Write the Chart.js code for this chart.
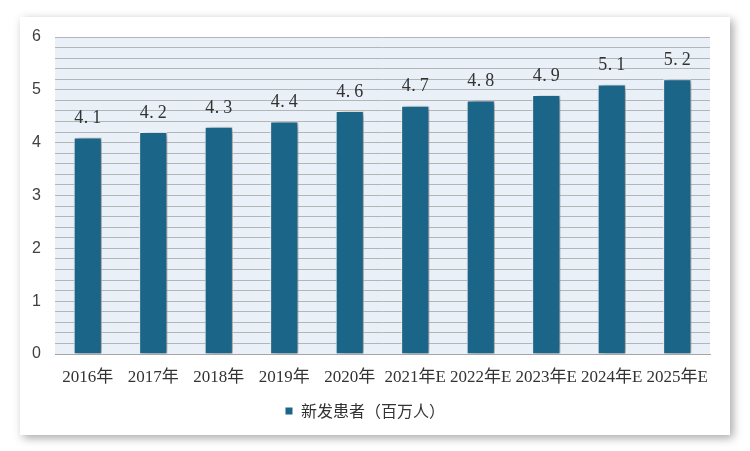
<!DOCTYPE html>
<html>
<head>
<meta charset="utf-8">
<script src="https://cdn.jsdelivr.net/npm/chart.js@4"></script>
<style>
  html, body { margin: 0; padding: 0; background: #fff; }
  #wrap { position: relative; width: 750px; height: 451px; }
  #card { position: absolute; left: 20px; top: 17px; width: 710px; height: 418px; background: #fff;
          box-shadow: 3px 3px 9px rgba(0,0,0,0.35); }
  #myChart { position: absolute; left: 0; top: 0; }
</style>
</head>
<body>
<div id="wrap">
  <div id="card"></div>
  <canvas id="myChart" width="750" height="451"></canvas>
</div>
<script>
const years = ['2016年','2017年','2018年','2019年','2020年','2021年E','2022年E','2023年E','2024年E','2025年E'];
const patients = [4.1, 4.2, 4.3, 4.4, 4.6, 4.7, 4.8, 4.9, 5.1, 5.2];
const seriesName = '新发患者（百万人）';
const barColor = '#1b6589';

// plot background
const plotBg = {
  id: 'plotBg',
  beforeDraw(chart) {
    const a = chart.chartArea, c = chart.ctx;
    c.save();
    c.fillStyle = '#e9f0f8';
    c.fillRect(a.left, a.top, a.right - a.left, a.bottom - a.top);
    c.restore();
  }
};

// shadow under bars
const barShadow = {
  id: 'barShadow',
  beforeDatasetsDraw(chart) {
    const c = chart.ctx;
    c.save();
    c.shadowColor = 'rgba(0,0,0,0.45)';
    c.shadowBlur = 6;
    c.shadowOffsetX = 3;
    c.shadowOffsetY = 1;
  },
  afterDatasetsDraw(chart) {
    chart.ctx.restore();
  }
};

// value labels above bars, drawn one char per fixed cell (like a wide CJK font)
const valueLabels = {
  id: 'valueLabels',
  afterDatasetsDraw(chart) {
    const c = chart.ctx;
    const meta = chart.getDatasetMeta(0);
    const cell = 9;
    c.save();
    c.font = '18px "Liberation Serif", serif';
    c.fillStyle = '#333';
    c.textBaseline = 'bottom';
    meta.data.forEach((bar, i) => {
      const txt = patients[i].toFixed(1);
      const x0 = bar.x - txt.length * cell / 2;
      txt.split('').forEach((ch, k) => {
        if (ch === '.') {
          c.textAlign = 'left';
          c.fillText(ch, x0 + k * cell + 0.5, bar.y - 10);
        } else {
          c.textAlign = 'center';
          c.fillText(ch, x0 + k * cell + cell / 2, bar.y - 10);
        }
      });
    });
    c.restore();
  }
};

new Chart(document.getElementById('myChart'), {
  type: 'bar',
  data: {
    labels: years,
    datasets: [{
      label: seriesName,
      data: patients,
      backgroundColor: barColor,
      borderColor: '#ffffff',
      borderWidth: 1,
      categoryPercentage: 1,
      barPercentage: 0.43
    }]
  },
  options: {
    responsive: false,
    animation: false,
    layout: { padding: { left: 20, right: 40, top: 37, bottom: 22 } },
    plugins: {
      tooltip: { enabled: false },
      legend: {
        position: 'bottom',
        labels: {
          boxWidth: 8, boxHeight: 8, padding: 10,
          color: '#333',
          font: { size: 16, family: '"Noto Sans CJK SC", sans-serif' }
        }
      }
    },
    scales: {
      x: {
        grid: { display: false },
        border: { color: '#a6a6a6' },
        ticks: { color: '#333', font: { size: 17, family: '"Liberation Serif", "Noto Sans CJK SC", serif' }, padding: 5, maxRotation: 0, autoSkip: false },
        afterFit(s) { s.height = 39; }
      },
      y: {
        min: 0, max: 6,
        border: { display: false },
        grid: { color: '#b5b5b5', lineWidth: 1, drawTicks: false },
        ticks: {
          stepSize: 0.2, autoSkip: false, padding: 14,
          color: '#404040',
          font: { size: 16, family: '"Liberation Sans", sans-serif' },
          callback: v => Math.abs(v - Math.round(v)) < 1e-6 ? String(Math.round(v)) : ''
        },
        afterFit(s) { s.width = 35; }
      }
    }
  },
  plugins: [plotBg, barShadow, valueLabels]
});
</script>
</body>
</html>
